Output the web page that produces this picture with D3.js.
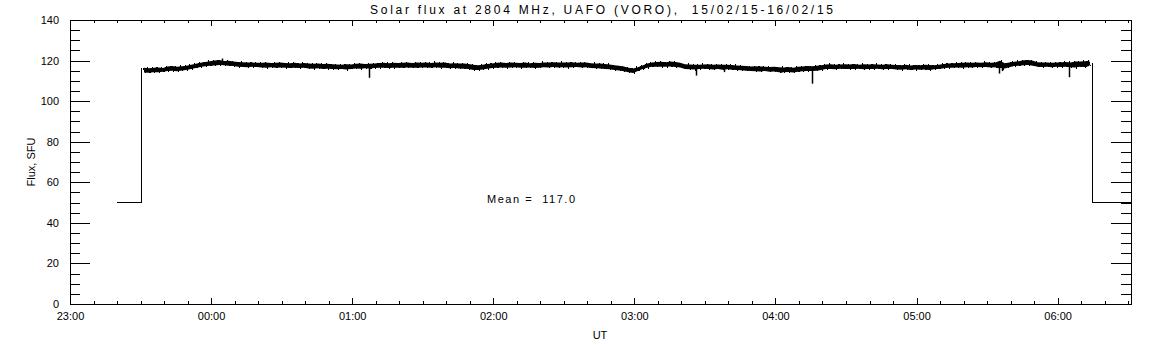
<!DOCTYPE html>
<html>
<head>
<meta charset="utf-8">
<script src="https://cdn.jsdelivr.net/npm/d3@7"></script>
<style>
  body { margin: 0; background: #fff; }
  text { font-family: "Liberation Sans", sans-serif; fill: #000; }
</style>
</head>
<body>
<figure style="margin:0"></figure>
<script>
const titleText = "Solar flux at 2804 MHz, UAFO (VORO),  15/02/15-16/02/15";
const meanText = "Mean =  117.0";

const xDomain = ["2015-02-15T23:00:00Z", "2015-02-16T06:31:12Z"];
const yDomain = [0, 140];
const yMajor = [0, 20, 40, 60, 80, 100, 120, 140];

// before the receiver switches on, and after it stops
const leadTimes = ["2015-02-15T23:20:00Z", "2015-02-15T23:30:30Z", "2015-02-15T23:30:30Z"];
const leadFlux = [50, 50, 116.3];
const tailTimes = ["2015-02-16T06:14:40Z", "2015-02-16T06:14:40Z", "2015-02-16T06:31:12Z"];
const tailFlux = [118.6, 50, 50];

// short single-sample spikes standing out of the band
const spikeTimes = [
  "2015-02-16T00:04:30Z", "2015-02-16T01:07:00Z", "2015-02-16T03:26:00Z",
  "2015-02-16T03:38:00Z", "2015-02-16T04:02:30Z", "2015-02-16T04:15:30Z",
  "2015-02-16T05:35:00Z", "2015-02-16T05:36:30Z", "2015-02-16T06:05:00Z",
];
const spikeFlux = [121.0, 111.5, 112.6, 114.3, 114.0, 108.6, 113.6, 114.8, 111.8];
const spikeBase = [118.8, 117.2, 117.0, 117.0, 115.6, 116.0, 117.8, 117.8, 118.0];

// one reading per minute from 23:31; the trace is a dense band, so each
// pair of readings is taken as the top and bottom of a 2-minute window
const fluxStart = "2015-02-15T23:31:00Z";
const flux = [
  116.5,114.1,116.2,114.0,116.4,114.3,116.6,114.2,116.3,114.5,
  117.1,114.8,117.3,115.0,116.9,114.7,117.2,115.1,117.4,115.3,
  118.0,115.8,118.4,116.3,118.9,116.8,119.3,117.2,119.7,117.5,
  120.0,117.6,120.3,117.8,119.8,117.7,119.9,117.5,119.6,117.3,
  119.3,116.9,119.2,116.8,119.0,116.7,119.1,116.9,118.9,116.8,
  118.9,116.6,119.0,116.5,118.8,116.7,118.9,116.4,119.0,116.6,
  118.8,116.4,118.7,116.3,118.9,116.5,118.6,116.3,118.8,116.4,
  118.5,116.1,118.4,116.0,118.6,116.2,118.3,115.9,118.4,116.0,
  118.2,115.8,118.1,115.7,118.0,115.9,118.2,115.6,118.1,115.9,
  118.4,116.1,118.5,116.0,118.3,116.2,118.4,116.1,118.6,116.3,
  118.8,116.4,118.9,116.5,118.7,116.3,118.9,116.4,118.8,116.5,
  118.9,116.5,119.0,116.6,118.8,116.5,119.1,116.4,118.9,116.6,
  119.0,116.6,118.8,116.5,119.1,116.7,118.9,116.5,119.0,116.4,
  118.6,116.2,118.7,116.3,118.5,116.1,118.6,116.0,118.3,115.9,
  117.9,115.4,117.7,115.3,117.9,115.6,118.3,116.0,118.6,116.3,
  118.9,116.5,119.0,116.6,118.8,116.4,119.1,116.6,118.9,116.7,
  118.8,116.4,119.0,116.5,118.7,116.6,118.9,116.3,118.8,116.5,
  119.1,116.7,119.0,116.6,119.2,116.8,119.0,116.6,119.1,116.7,
  119.0,116.6,119.2,116.7,118.9,116.8,119.1,116.6,119.0,116.7,
  118.7,116.3,118.6,116.2,118.5,116.1,118.3,115.9,118.1,115.7,
  117.7,115.4,117.4,115.1,117.1,114.7,116.5,114.2,116.1,113.9,
  116.7,114.9,117.6,115.8,118.5,116.5,119.0,116.9,119.3,117.0,
  119.4,117.0,119.2,116.9,119.5,117.1,119.3,116.8,118.9,116.6,
  118.2,115.9,118.1,115.7,118.0,115.6,117.9,115.8,118.1,116.0,
  118.2,115.8,118.0,115.6,118.1,115.9,117.9,115.5,118.0,115.7,
  117.8,115.5,117.6,115.3,117.5,115.2,117.3,115.0,117.1,114.8,
  117.2,114.7,117.1,114.6,117.0,114.8,116.8,114.5,116.9,114.6,
  116.7,114.3,116.6,114.2,116.8,114.4,116.5,114.1,116.9,114.5,
  117.1,114.7,117.3,114.9,117.2,114.8,117.4,115.0,117.7,115.3,
  118.1,115.8,118.2,115.9,118.0,115.7,118.1,116.0,118.2,115.8,
  118.1,115.9,118.3,115.8,118.0,116.0,118.2,115.7,118.1,115.9,
  118.2,115.8,118.1,116.0,118.0,115.7,118.2,115.9,117.9,115.8,
  117.8,115.6,117.7,115.5,117.9,115.7,117.6,115.4,117.8,115.6,
  117.7,115.5,117.9,115.6,117.8,115.4,117.7,115.7,118.0,115.8,
  118.3,116.2,118.6,116.4,118.7,116.5,118.8,116.6,118.9,116.5,
  119.0,116.7,118.9,116.6,119.1,116.8,118.9,116.7,119.2,116.8,
  118.9,116.6,119.1,116.7,116.3,119.9,116.1,118.7,116.7,119.1,
  119.4,117.3,119.7,117.5,120.1,117.7,120.3,117.8,119.9,117.4,
  119.2,116.9,119.0,116.8,119.1,117.0,118.9,116.7,119.1,116.9,
  119.2,116.8,119.3,117.0,119.1,116.7,119.5,116.6,119.6,116.9,
  119.7,116.8,119.9,117.3
];

const width = 1152;
const height = 345;
const margin = { left: 70, right: 21, top: 20, bottom: 41 };

let svg = d3
  .select("figure")
  .append("svg")
  .attr("width", width)
  .attr("height", height);

const x = d3
  .scaleUtc()
  .domain(xDomain.map((d) => new Date(d)))
  .range([margin.left, width - margin.right]);

const y = d3
  .scaleLinear()
  .domain(yDomain)
  .range([height - margin.bottom, margin.top]);

function buildBand() {
  let band = [];
  const t0 = new Date(fluxStart).getTime();
  for (let i = 0; i + 1 < flux.length; i += 2) {
    band.push({
      t: new Date(t0 + (i + 0.5) * 60000),
      lo: Math.min(flux[i], flux[i + 1]),
      hi: Math.max(flux[i], flux[i + 1]),
    });
  }
  return band;
}

function buildReadings() {
  const t0 = new Date(fluxStart).getTime();
  return flux.map((v, i) => [new Date(t0 + i * 60000), v]);
}

function buildEdge(times, values) {
  return times.map((t, i) => [new Date(t), values[i]]);
}

function drawAxes() {
  const bottom = height - margin.bottom;
  const right = width - margin.right;
  const hours = d3.utcHour.every(1);
  const tenMin = d3.utcMinute.every(10);

  let g = svg.append("g").attr("shape-rendering", "crispEdges");

  // bottom: minor then major with labels
  g.append("g")
    .attr("transform", `translate(0,${bottom})`)
    .call(d3.axisBottom(x).ticks(tenMin).tickSize(-3).tickFormat(""));
  g.append("g")
    .attr("transform", `translate(0,${bottom})`)
    .call(
      d3.axisBottom(x).ticks(hours).tickSize(-6).tickPadding(8)
        .tickFormat(d3.utcFormat("%H:%M"))
    );

  // top mirror
  g.append("g")
    .attr("transform", `translate(0,${margin.top})`)
    .call(d3.axisTop(x).ticks(tenMin).tickSize(-3).tickFormat(""));
  g.append("g")
    .attr("transform", `translate(0,${margin.top})`)
    .call(d3.axisTop(x).ticks(hours).tickSize(-6).tickFormat(""));

  // left
  g.append("g")
    .attr("transform", `translate(${margin.left},0)`)
    .call(d3.axisLeft(y).ticks(28).tickSize(-10).tickFormat(""));
  g.append("g")
    .attr("transform", `translate(${margin.left},0)`)
    .call(d3.axisLeft(y).tickValues(yMajor).tickSize(-20).tickPadding(11));

  // right mirror
  g.append("g")
    .attr("transform", `translate(${right},0)`)
    .call(d3.axisRight(y).ticks(28).tickSize(-10).tickFormat(""));
  g.append("g")
    .attr("transform", `translate(${right},0)`)
    .call(d3.axisRight(y).tickValues(yMajor).tickSize(-20).tickFormat(""));

  g.selectAll(".domain").remove();
  g.selectAll("line").attr("stroke", "#000");
  g.selectAll("text")
    .style("font-family", "'Liberation Sans', sans-serif")
    .style("font-size", "11px")
    .attr("fill", "#000");

  g.append("rect")
    .attr("x", margin.left)
    .attr("y", margin.top)
    .attr("width", right - margin.left)
    .attr("height", bottom - margin.top)
    .attr("fill", "none")
    .attr("stroke", "#000");
}

function drawSeries() {
  const area = d3
    .area()
    .x((d) => x(d.t))
    .y0((d) => y(d.lo))
    .y1((d) => y(d.hi));

  svg
    .append("path")
    .datum(buildBand())
    .attr("d", area)
    .attr("fill", "#000");

  const line = d3
    .line()
    .x((d) => x(d[0]))
    .y((d) => y(d[1]));

  svg
    .append("path")
    .datum(buildReadings())
    .attr("d", line)
    .attr("fill", "none")
    .attr("stroke", "#000")
    .attr("stroke-width", 1)
    .attr("shape-rendering", "crispEdges");

  svg
    .selectAll(".spike")
    .data(spikeTimes)
    .enter()
    .append("line")
    .attr("class", "spike")
    .attr("x1", (d) => Math.round(x(new Date(d))) + 0.5)
    .attr("x2", (d) => Math.round(x(new Date(d))) + 0.5)
    .attr("y1", (_, i) => y(spikeBase[i]))
    .attr("y2", (_, i) => y(spikeFlux[i]))
    .attr("stroke", "#000")
    .attr("stroke-width", 1.5);

  [buildEdge(leadTimes, leadFlux), buildEdge(tailTimes, tailFlux)].forEach((edge) => {
    svg
      .append("path")
      .datum(edge)
      .attr("d", line)
      .attr("fill", "none")
      .attr("stroke", "#000")
      .attr("stroke-width", 1)
      .attr("shape-rendering", "crispEdges");
  });
}

function drawLabels() {
  svg
    .append("text")
    .attr("x", 370)
    .attr("y", 14)
    .attr("textLength", 463)
    .attr("lengthAdjust", "spacing")
    .style("white-space", "pre")
    .style("font-size", "12px")
    .text(titleText);

  svg
    .append("text")
    .attr("x", 600)
    .attr("y", 339)
    .attr("text-anchor", "middle")
    .style("font-size", "11px")
    .text("UT");

  svg
    .append("text")
    .attr("transform", "translate(35,162) rotate(-90)")
    .attr("text-anchor", "middle")
    .style("font-size", "11px")
    .text("Flux, SFU");

  svg
    .append("text")
    .attr("x", 487)
    .attr("y", 203)
    .attr("textLength", 88)
    .attr("lengthAdjust", "spacing")
    .style("white-space", "pre")
    .style("font-size", "11px")
    .text(meanText);
}

drawAxes();
drawSeries();
drawLabels();
</script>
</body>
</html>
